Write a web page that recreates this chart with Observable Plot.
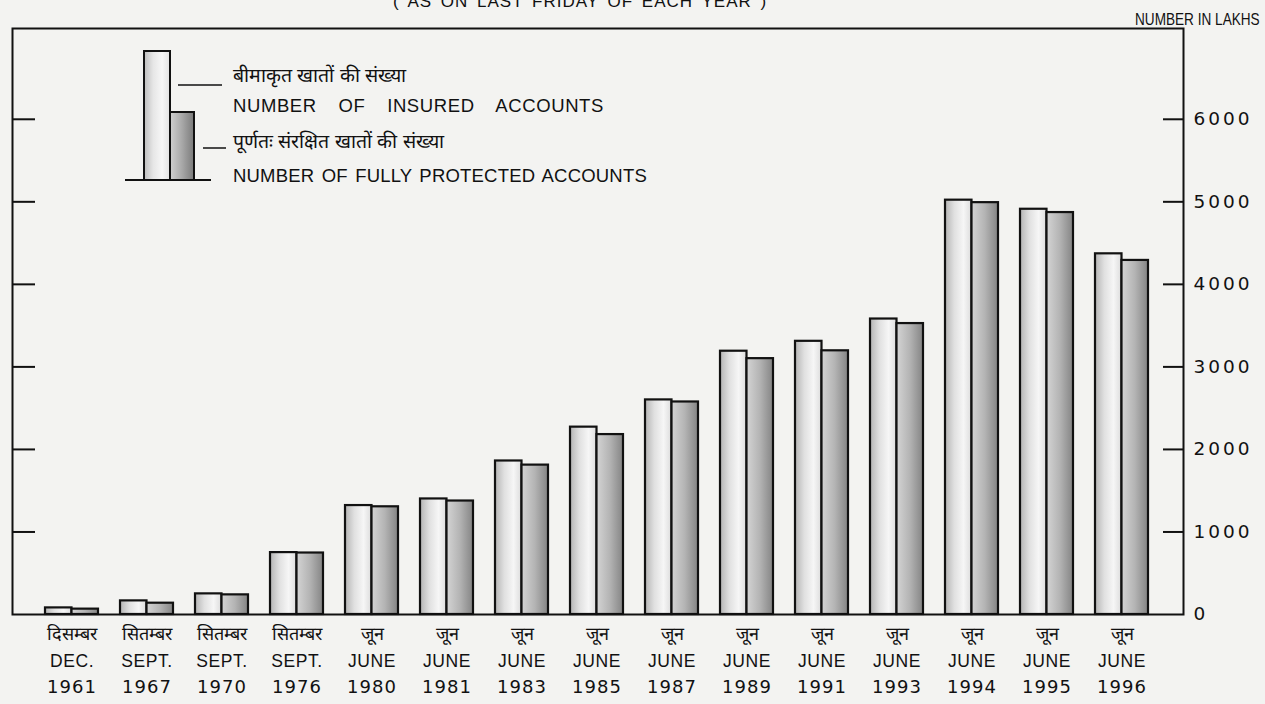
<!DOCTYPE html>
<html>
<head>
<meta charset="utf-8">
<script src="https://cdn.jsdelivr.net/npm/d3@7"></script>
<script src="https://cdn.jsdelivr.net/npm/@observablehq/plot@0.6"></script>
<style>
  html, body { margin: 0; padding: 0; background: #f3f3f1; }
  #wrap { position: relative; width: 1265px; height: 704px; overflow: hidden; font-family: "Liberation Sans", Arial, sans-serif; color: #111; }
  #chart { position: absolute; left: 0; top: 0; }
  .title { position: absolute; left: 393px; top: -8px; font-size: 17px; letter-spacing: 1px; word-spacing: 3px; white-space: nowrap; }
  .units { position: absolute; left: 1135px; top: 10px; font-size: 17px; white-space: nowrap; transform: scaleX(0.8); transform-origin: left center; }
  #legend { position: absolute; left: 0; top: 0; }
</style>
</head>
<body>
<div id="wrap">
  <div id="chart"></div>
  <div class="title">( AS ON LAST FRIDAY OF EACH YEAR )</div>
  <div class="units">NUMBER IN LAKHS</div>
  <svg id="legend" width="700" height="200"></svg>
</div>
<script>
// ---- data ----
const years = ["1961","1967","1970","1976","1980","1981","1983","1985","1987","1989","1991","1993","1994","1995","1996"];
const monthsEn = ["DEC.","SEPT.","SEPT.","SEPT.","JUNE","JUNE","JUNE","JUNE","JUNE","JUNE","JUNE","JUNE","JUNE","JUNE","JUNE"];
const monthsHi = ["दिसम्बर","सितम्बर","सितम्बर","सितम्बर","जून","जून","जून","जून","जून","जून","जून","जून","जून","जून","जून"];
const insured = [80, 165, 250, 750, 1320, 1400, 1860, 2270, 2600, 3190, 3310, 3580, 5020, 4910, 4370];
const fullyProtected = [65, 137, 238, 745, 1305, 1375, 1810, 2180, 2575, 3100, 3195, 3525, 4990, 4870, 4290];
const yTicks = [0, 1000, 2000, 3000, 4000, 5000, 6000];
const innerTicks = [1000, 2000, 3000, 4000, 5000, 6000];
const legendLabels = {
  insuredHi: "बीमाकृत खातों की संख्या",
  insuredEn: "NUMBER OF INSURED ACCOUNTS",
  protectedHi: "पूर्णतः संरक्षित खातों की संख्या",
  protectedEn: "NUMBER OF FULLY PROTECTED ACCOUNTS"
};

const rows = years.map((y, i) => ({year: y, insured: insured[i], prot: fullyProtected[i]}));
const ink = "#111111";
const W = 1265, ML = 12, MR = 82;
const plotW = W - ML - MR;

const chart = Plot.plot({
  width: W,
  height: 704,
  marginLeft: ML,
  marginRight: MR,
  marginTop: 28,
  marginBottom: 90,
  style: {background: "transparent", fontFamily: "Liberation Sans, Arial, sans-serif", color: ink},
  x: {type: "band", domain: years, padding: 0.29, insetLeft: 10, insetRight: 12},
  y: {domain: [0, 7100], axis: null},
  marks: [
    Plot.barY(rows, {x: "year", y: "insured", fill: "url(#gIns)", stroke: ink, strokeWidth: 2.2, insetRight: 26.5}),
    Plot.barY(rows, {x: "year", y: "prot", fill: "url(#gProt)", stroke: ink, strokeWidth: 2.2, insetLeft: 26.5}),
    Plot.frame({stroke: ink, strokeWidth: 2}),
    // inward ticks on the right axis and on the left edge
    Plot.ruleY(innerTicks, {y: d => d, stroke: ink, strokeWidth: 2, insetLeft: plotW - 20}),
    Plot.ruleY(innerTicks, {y: d => d, stroke: ink, strokeWidth: 2, insetRight: plotW - 23}),
    Plot.text(yTicks, {y: d => d, text: d => String(d), frameAnchor: "right", textAnchor: "start", dx: 10,
      fontSize: 18.5, fontFamily: "DejaVu Sans, sans-serif", fill: ink, ariaDescription: "ylabels"}),
    Plot.axisX(years, {anchor: "bottom", tickSize: 0, tickPadding: 13, fontSize: 18, label: null, fontWeight: 500,
      fontFamily: "sans-serif", tickFormat: d => monthsHi[years.indexOf(d)], ariaDescription: "hi"}),
    Plot.axisX(years, {anchor: "bottom", tickSize: 0, tickPadding: 40, fontSize: 17.5, label: null,
      fontFamily: "Liberation Sans, Arial, sans-serif", tickFormat: d => monthsEn[years.indexOf(d)], ariaDescription: "en"}),
    Plot.axisX(years, {anchor: "bottom", tickSize: 0, tickPadding: 66, fontSize: 18, label: null,
      fontFamily: "DejaVu Sans, sans-serif", tickFormat: d => d, ariaDescription: "yr"})
  ]
});

const sel = d3.select(chart);
sel.selectAll('[aria-description="ylabels"] text').style("letter-spacing", "3px");
sel.selectAll('[aria-description="en"] text').style("letter-spacing", "0.6px");
sel.selectAll('[aria-description="yr"] text').style("letter-spacing", "1px");

// gradients for the shaded bars
const defs = sel.insert("defs", ":first-child");
const gi = defs.append("linearGradient").attr("id", "gIns").attr("x1", 0).attr("x2", 1).attr("y1", 0).attr("y2", 0);
[[0, "#b4b4b4"], [0.35, "#e0e0e0"], [0.7, "#f6f6f6"], [1, "#dcdcdc"]].forEach(([o, c]) => gi.append("stop").attr("offset", o).attr("stop-color", c));
const gp = defs.append("linearGradient").attr("id", "gProt").attr("x1", 0).attr("x2", 1).attr("y1", 0).attr("y2", 0);
[[0, "#d4d4d4"], [0.5, "#b4b4b4"], [1, "#848484"]].forEach(([o, c]) => gp.append("stop").attr("offset", o).attr("stop-color", c));

document.getElementById("chart").appendChild(chart);

// legend (inset, top-left of the chart)
const lg = d3.select("#legend");
const ldefs = lg.append("defs");
const li = ldefs.append("linearGradient").attr("id", "lgIns").attr("x1", 0).attr("x2", 1);
[[0, "#bdbdbd"], [0.35, "#e6e6e6"], [0.7, "#f7f7f7"], [1, "#e2e2e2"]].forEach(([o, c]) => li.append("stop").attr("offset", o).attr("stop-color", c));
const lp = ldefs.append("linearGradient").attr("id", "lgProt").attr("x1", 0).attr("x2", 1);
[[0, "#d0d0d0"], [0.5, "#a8a8a8"], [1, "#7a7a7a"]].forEach(([o, c]) => lp.append("stop").attr("offset", o).attr("stop-color", c));
lg.append("rect").attr("x", 144).attr("y", 51).attr("width", 26).attr("height", 129).attr("fill", "url(#lgIns)").attr("stroke", ink).attr("stroke-width", 2);
lg.append("rect").attr("x", 170).attr("y", 112).attr("width", 24).attr("height", 68).attr("fill", "url(#lgProt)").attr("stroke", ink).attr("stroke-width", 2);
lg.append("line").attr("x1", 125).attr("x2", 211).attr("y1", 180).attr("y2", 180).attr("stroke", ink).attr("stroke-width", 2);
lg.append("line").attr("x1", 178).attr("x2", 222).attr("y1", 85).attr("y2", 85).attr("stroke", ink).attr("stroke-width", 1.5);
lg.append("line").attr("x1", 203).attr("x2", 226).attr("y1", 148).attr("y2", 148).attr("stroke", ink).attr("stroke-width", 1.5);
const lt = [
  [legendLabels.insuredHi, 75, 19.5, "sans-serif", 500, 0, 0],
  [legendLabels.insuredEn, 106, 18.5, "Liberation Sans, Arial, sans-serif", 400, 0.6, 16],
  [legendLabels.protectedHi, 141, 19.5, "sans-serif", 500, 0, 0],
  [legendLabels.protectedEn, 176, 18.5, "Liberation Sans, Arial, sans-serif", 400, 0.2, 2]
];
lt.forEach(([t, y, fs, ff, fw, ls, ws]) => lg.append("text").attr("x", 233).attr("y", y).attr("dy", "0.35em")
  .attr("font-size", fs).attr("font-family", ff).attr("font-weight", fw)
  .style("letter-spacing", ls + "px").style("word-spacing", ws + "px").attr("fill", ink).text(t));
</script>
</body>
</html>
